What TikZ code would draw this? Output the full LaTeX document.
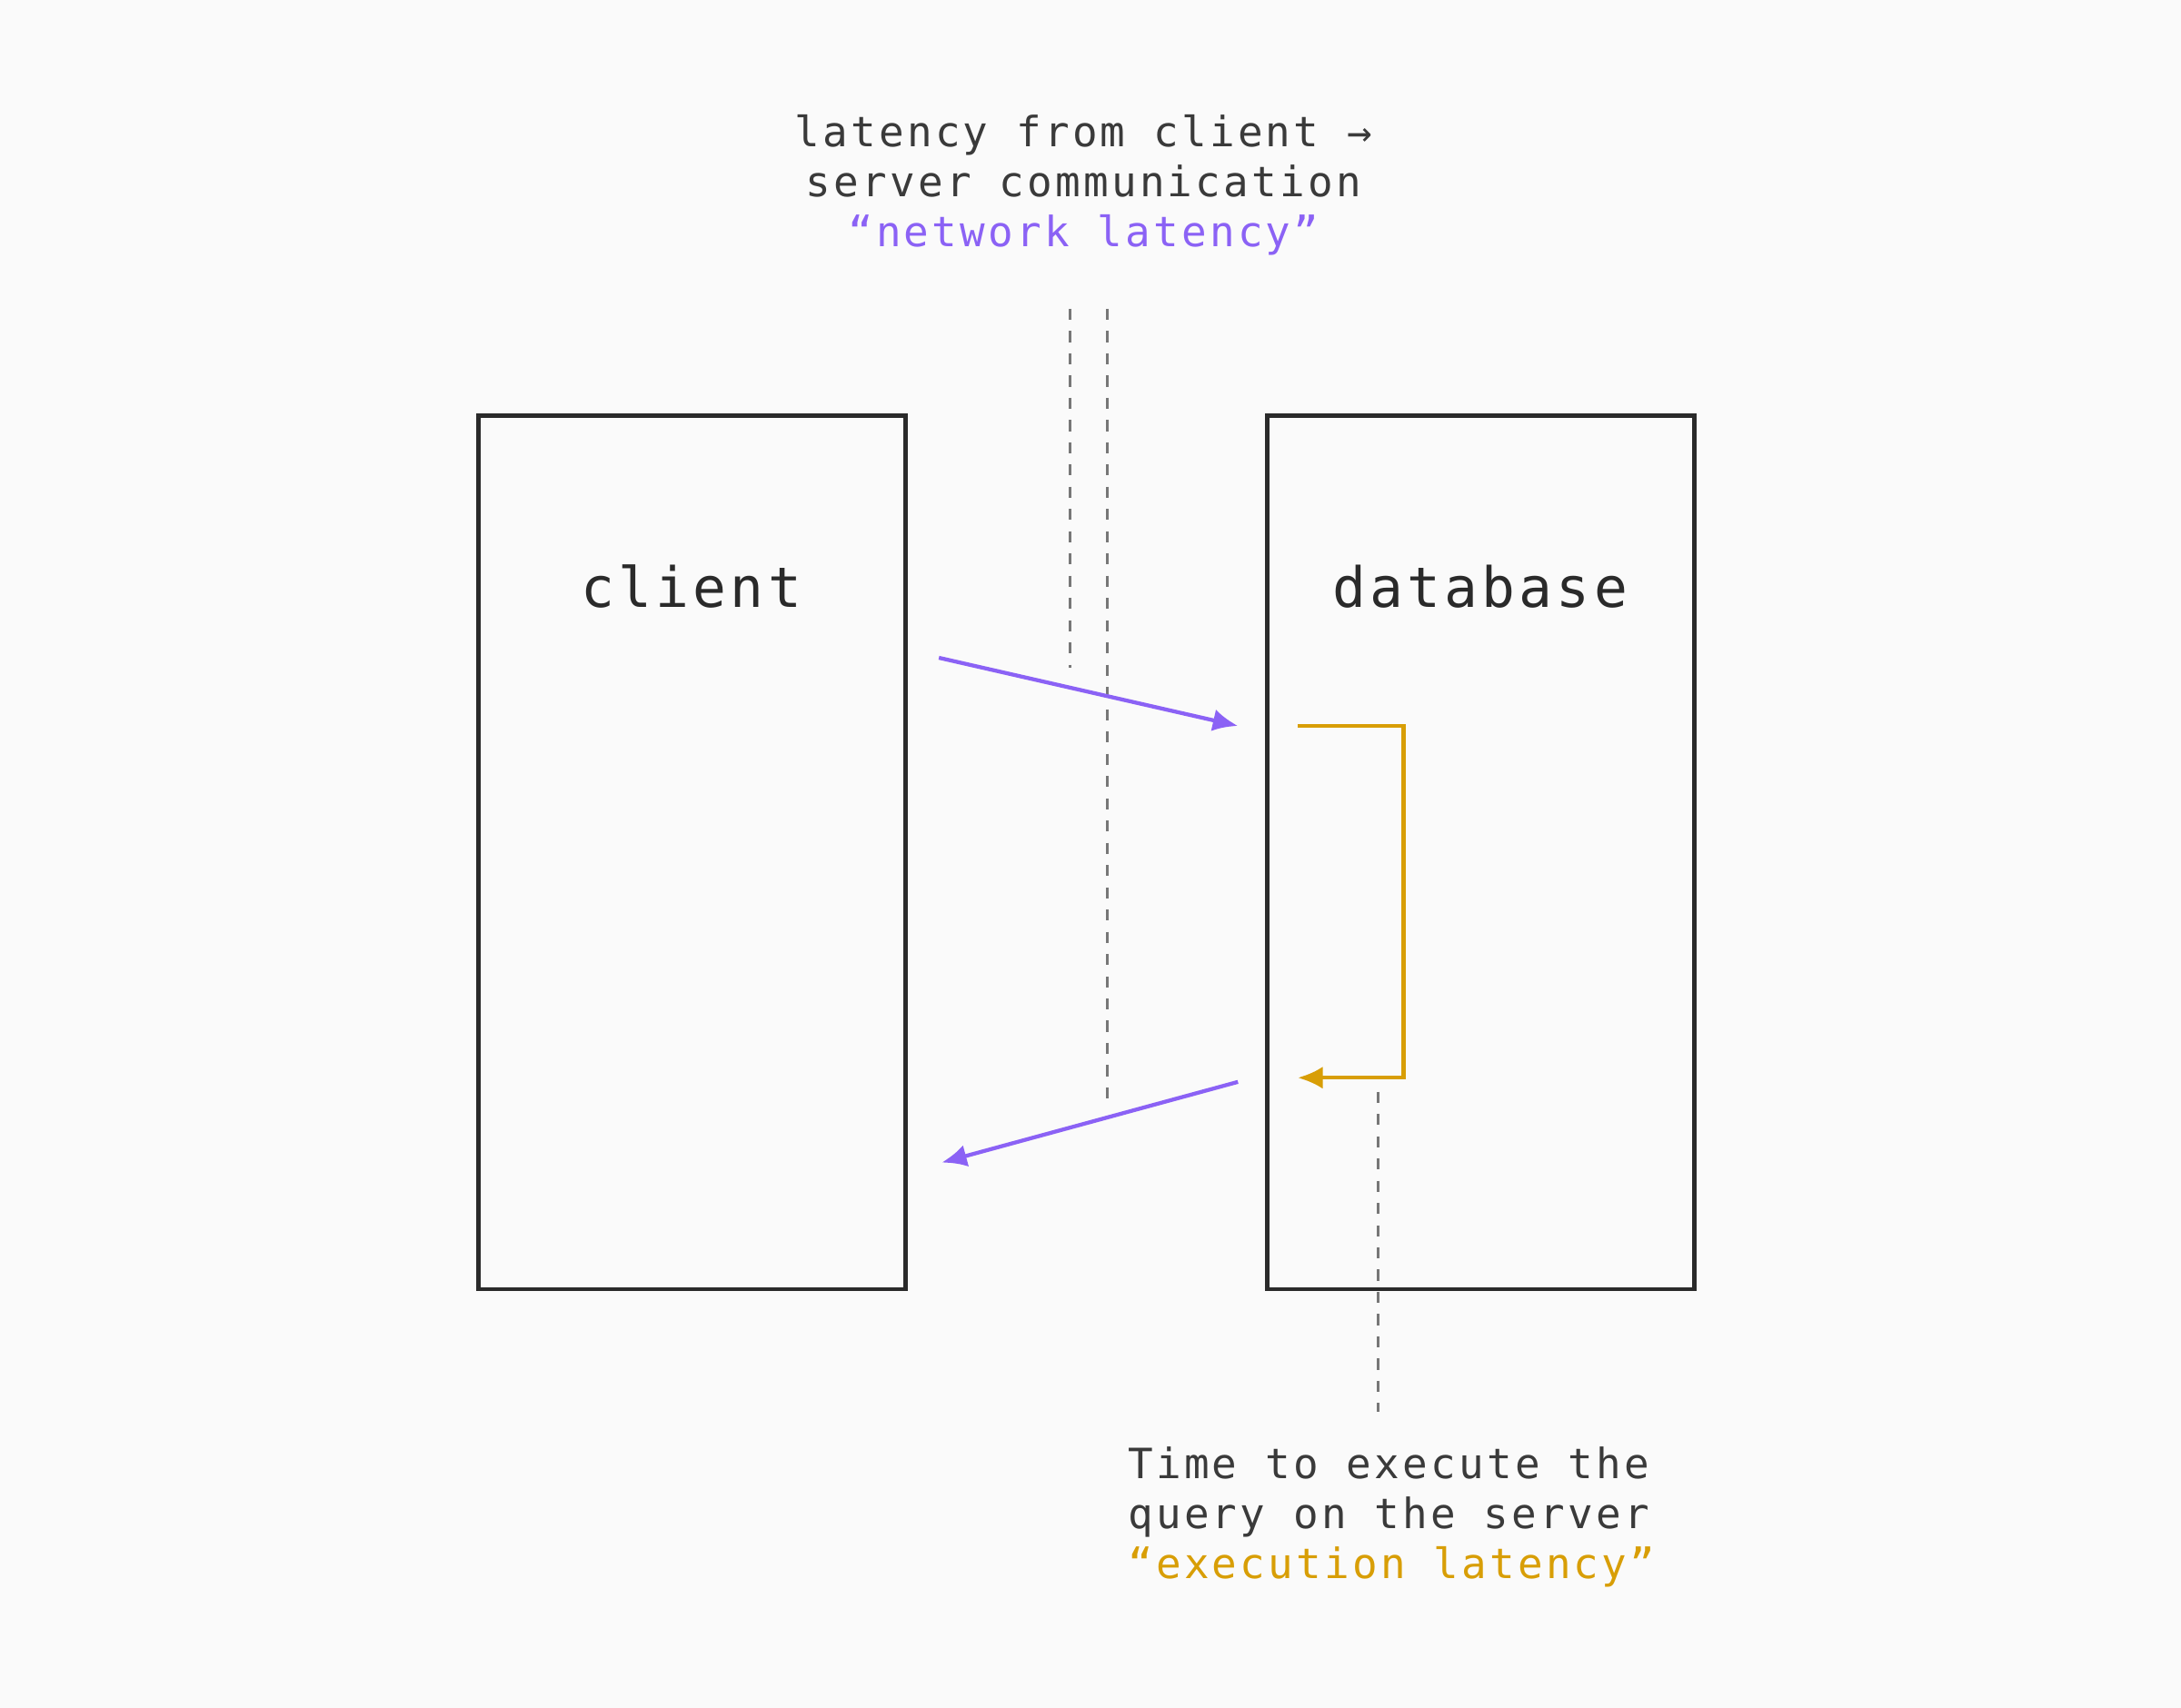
\documentclass[tikz,border=0pt]{standalone}
\usepackage{fontspec}
\setmonofont[LetterSpace=7]{DejaVu Sans Mono}
\usetikzlibrary{arrows.meta}
\definecolor{bg}{HTML}{FAFAFA}
\definecolor{ink}{HTML}{2A2A2A}
\definecolor{txt}{HTML}{3A3A3A}
\definecolor{purp}{HTML}{8B62F5}
\definecolor{gold}{HTML}{D89E06}
\definecolor{dgray}{HTML}{777777}
\tikzset{
  boxst/.style={draw=ink,line width=1.5pt},
  lbl/.style={font=\ttfamily\fontsize{20}{24}\selectfont,text=ink},
  note/.style={font=\ttfamily\fontsize{15}{18}\selectfont,text=txt,align=center},
  guide/.style={draw=dgray,line width=1pt,dash pattern=on 4pt off 4pt},
  parrow/.style={draw=purp,line width=1.4pt,-{Latex[length=9pt,width=8pt]}},
  garrow/.style={draw=gold,line width=1.4pt,-{Latex[length=9pt,width=8pt]}}
}
\begin{document}
\begin{tikzpicture}[x=0.5pt,y=-0.5pt]
\fill[bg] (0,0) rectangle (1568,1228);
\useasboundingbox (0,0) rectangle (1568,1228);
\draw[boxst] (344,299) rectangle (651,927);
\draw[boxst] (911,299) rectangle (1218,927);
\node[lbl] (cl) at (497,422) {client};
\node[lbl] (db) at (1064,422) {database};
\node[note] (top) at (779,133) {latency from client →\\server communication\\\textcolor{purp}{“network latency”}};
\node[note,align=left,anchor=west] (bot) at (804,1091) {Time to execute the\\query on the server\\\textcolor{gold}{“execution latency”}};
\coordinate (d1a) at (769,222); \coordinate (d1b) at (769,480);
\coordinate (d2a) at (796,222); \coordinate (d2b) at (796,790);
\coordinate (d3a) at (991,785); \coordinate (d3b) at (991,1015);
\draw[guide] (d1a) -- (d1b);
\draw[guide] (d2a) -- (d2b);
\draw[guide] (d3a) -- (d3b);
\coordinate (p1) at (675,473); \coordinate (p2) at (890,522);
\coordinate (p3) at (890,778); \coordinate (p4) at (677,836);
\draw[parrow] (p1) -- (p2);
\draw[parrow] (p3) -- (p4);
\coordinate (g1) at (933,522); \coordinate (g2) at (1009,522);
\coordinate (g3) at (1009,775); \coordinate (g4) at (933,775);
\draw[garrow] (g1) -- (g2) -- (g3) -- (g4);
\end{tikzpicture}
\end{document}
